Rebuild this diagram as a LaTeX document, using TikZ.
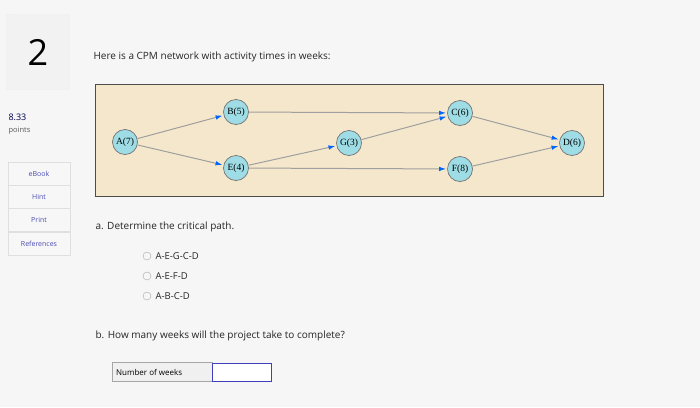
\documentclass[tikz,border=0pt]{standalone}
\usepackage{fontspec}
\setmainfont{Open Sans}
\newfontfamily\serifnode{Liberation Serif}
\usetikzlibrary{arrows.meta}
\definecolor{tan}{HTML}{F5E7CB}
\definecolor{nodec}{HTML}{9FDDE6}
\begin{document}
\begin{tikzpicture}[x=1pt,y=-1pt,
  act/.style={circle,draw=gray!90!black,line width=0.7pt,fill=nodec,minimum size=25pt,inner sep=0pt,font=\serifnode\fontsize{9.5}{10}\selectfont},
  con/.style={draw=gray!75,line width=1pt,-{Latex[length=7pt,width=4.5pt,color=blue!60!cyan]},shorten >=1pt},
  side/.style={draw=gray!25,fill=gray!6,minimum width=62pt,minimum height=23pt,text=blue!40!gray,font=\fontsize{7}{8}\selectfont},
  txt/.style={anchor=west,font=\fontsize{10}{12}\selectfont,text=black!85},
  opt/.style={circle,draw=gray!70,minimum size=8pt,inner sep=0pt}]
\fill[gray!7] (0,0) rectangle (700,407);
\useasboundingbox (0,0) rectangle (700,407);
\node[draw=gray!15,fill=gray!10,minimum width=63pt,minimum height=75pt,rounded corners=2pt,font=\fontsize{36}{40}\selectfont] (num) at (38,52) {2};
\node[anchor=west,font=\fontsize{9}{10}\selectfont,text=blue!30!black] (pts) at (5,117) {8.33};
\node[anchor=west,font=\fontsize{7.5}{8}\selectfont,text=gray!70!black] (ptl) at (5,131) {points};
\node[side] (s1) at (39,174) {eBook};
\node[side] (s2) at (39,197) {Hint};
\node[side] (s3) at (39,220) {Print};
\node[side] (s4) at (39,244) {References};
\node[txt] (title) at (90,57) {Here is a CPM network with activity times in weeks:};
\node[draw=gray!60!black,fill=tan,minimum width=508pt,minimum height=112pt,anchor=north west,inner sep=0pt] (bg) at (95,84) {};
\node[act] (A) at (125,142) {A(7)};
\node[act] (B) at (236,112) {B(5)};
\node[act] (E) at (236,168) {E(4)};
\node[act] (G) at (349,143) {G(3)};
\node[act] (C) at (460,113) {C(6)};
\node[act] (F) at (460,169) {F(8)};
\node[act] (D) at (572,143) {D(6)};
\draw[con] (A) -- (B);
\draw[con] (A) -- (E);
\draw[con] (B) -- (C);
\draw[con] (E) -- (G);
\draw[con] (G) -- (C);
\draw[con] (E) -- (F);
\draw[con] (C) -- (D);
\draw[con] (F) -- (D);
\node[txt] (qa) at (92,227) {a. Determine the critical path.};
\node[opt] (o1) at (147,256) {};
\node[opt] (o2) at (147,276) {};
\node[opt] (o3) at (147,296) {};
\node[txt,font=\fontsize{9.5}{11}\selectfont] (t1) at (152,256) {A-E-G-C-D};
\node[txt,font=\fontsize{9.5}{11}\selectfont] (t2) at (152,276) {A-E-F-D};
\node[txt,font=\fontsize{9.5}{11}\selectfont] (t3) at (152,296) {A-B-C-D};
\node[txt] (qb) at (92,336) {b. How many weeks will the project take to complete?};
\node[draw=gray!70,fill=gray!12,minimum width=100pt,minimum height=19pt,anchor=west,inner sep=0pt] (lab) at (112,372) {};
\node[anchor=west,font=\fontsize{8}{9}\selectfont,inner sep=0pt] (labt) at (116,372) {Number of weeks};
\node[draw=blue!50!gray,line width=1pt,fill=white,minimum width=59pt,minimum height=18pt,anchor=west] (inp) at (lab.east) {};
\end{tikzpicture}
\end{document}
